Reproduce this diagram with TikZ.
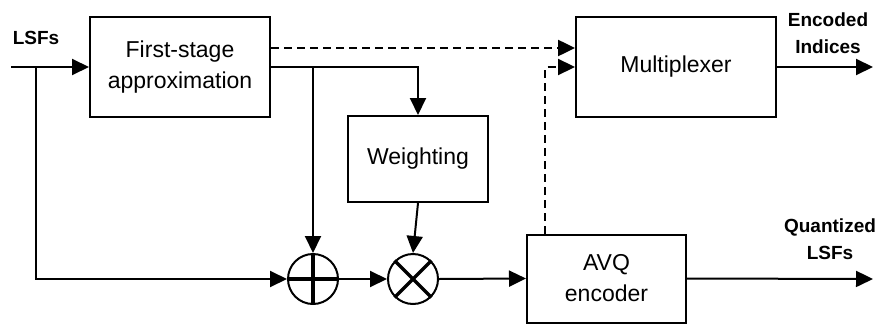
\documentclass[tikz,border=0pt]{standalone}
\usepackage{fontspec}
\setmainfont{Liberation Sans}
\usetikzlibrary{arrows.meta,calc}
\newcommand\myboxfont{\fontsize{23}{31}\selectfont}
\newcommand\mylblfont{\fontsize{19}{27}\selectfont\bfseries}
\tikzset{
 blk/.style={draw, line width=2pt, font=\myboxfont, align=center, inner sep=0pt},
 opc/.style={circle, draw, line width=2pt, minimum size=50pt, inner sep=0pt},
 arr/.style={line width=2pt, -{Triangle[length=17pt,width=16pt]}},
 dsh/.style={arr, line width=2.5pt, dash pattern=on 8pt off 5pt},
 lbl/.style={font=\mylblfont, align=center, inner sep=0pt},
}
\begin{document}
\begin{tikzpicture}[x=1pt,y=-1pt]
\useasboundingbox (0,0) rectangle (882,324);
% blocks
\node[blk, minimum width=180pt, minimum height=100pt] (fs) at (180,67) {First-stage\\approximation};
\node[blk, minimum width=200pt, minimum height=100pt] (mux) at (676,67) {Multiplexer};
\node[blk, minimum width=140pt, minimum height=86pt] (wt) at (418,159) {Weighting};
\node[blk, minimum width=159pt, minimum height=88pt] (avq) at (606.5,278.5) {AVQ\\encoder};
\node[opc] (plus) at (313,279) {};
\node[opc] (times) at (413,279) {};
\draw[line width=3.2pt] (plus.north) -- (plus.south) (plus.west) -- (plus.east);
\draw[line width=3.2pt] (times.north west) -- (times.south east) (times.north east) -- (times.south west);
% labels
\node[lbl] (lin) at (36,38) {LSFs};
\node[lbl] (lenc) at (828,33) {Encoded\\Indices};
\node[lbl] (lq) at (830,239) {Quantized\\LSFs};
% coordinates
\coordinate (in) at (11,67);
\coordinate (br1) at (36,67);
\coordinate (br2) at (313,67);
\coordinate (out1) at (873,67);
\coordinate (out2) at (873,279);
% connectors
\draw[arr] (in) -- (fs.west);
\draw[arr] (br1) |- (plus.west);
\draw[arr] (fs.east) -| (wt.north);
\draw[arr] (br2) -- (plus.north);
\draw[arr] (wt.south) -- (times.north);
\draw[arr] (plus.east) -- (times.west);
\draw[arr] (times.east) -- (avq.west);
\draw[arr] (avq.east) -- (out2);
\draw[arr] (mux.east) -- (out1);
\draw[dsh] ($(fs.east)+(0,-19)$) -- ($(mux.west)+(0,-19)$);
\draw[dsh, line width=2.2pt] ($(avq.north west)+(19,0)$) |- (mux.west);
\end{tikzpicture}
\end{document}
